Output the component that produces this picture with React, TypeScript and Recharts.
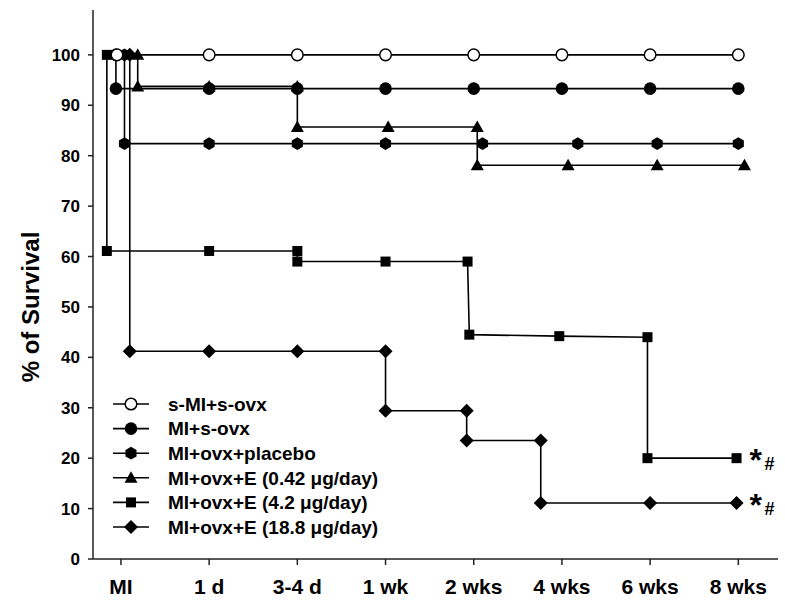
import React from 'react';
import { LineChart, Line, XAxis, YAxis, ReferenceDot } from 'recharts';

// ---- categories / ticks ----
const categories = ['MI', '1 d', '3-4 d', '1 wk', '2 wks', '4 wks', '6 wks', '8 wks'];
const categoryPositions = [0, 1, 2, 3, 4, 5, 6, 7];
const yTicks = [0, 10, 20, 30, 40, 50, 60, 70, 80, 90, 100];

const seriesNames = [
  's-MI+s-ovx',
  'MI+s-ovx',
  'MI+ovx+placebo',
  'MI+ovx+E (0.42 \u03BCg/day)',
  'MI+ovx+E (4.2 \u03BCg/day)',
  'MI+ovx+E (18.8 \u03BCg/day)',
];
const seriesShapes = ['openCircle', 'circle', 'hexagon', 'triangle', 'square', 'diamond'];

// ---- series values (x = time position, y = % survival) ----
const sMIsOvxX = [-0.045, 1, 2, 3, 4, 5, 6, 7];
const sMIsOvxY = [100, 100, 100, 100, 100, 100, 100, 100];

const miSOvxX = [-0.057, -0.057, 1, 2, 3, 4, 5, 6, 7];
const miSOvxY = [100, 93.3, 93.3, 93.3, 93.3, 93.3, 93.3, 93.3, 93.3];

const placeboX = [0.04, 0.04, 1, 2, 3, 4.1, 5.18, 6.08, 7];
const placeboY = [100, 82.4, 82.4, 82.4, 82.4, 82.4, 82.4, 82.4, 82.4];

const e042X = [0.19, 0.19, 1, 2, 2, 3.03, 4.04, 4.04, 5.07, 6.08, 7.07];
const e042Y = [100, 93.75, 93.75, 93.75, 85.7, 85.7, 85.7, 78.1, 78.1, 78.1, 78.1];

const e42X = [-0.16, -0.16, 1, 2, 2, 3, 3.93, 3.95, 4.97, 5.97, 5.97, 6.98];
const e42Y = [100, 61.1, 61.1, 61.1, 59, 59, 59, 44.5, 44.2, 44, 20, 20];

const e188X = [0.1, 0.1, 1, 2, 3, 3, 3.92, 3.92, 4.76, 4.76, 6, 6.98];
const e188Y = [100, 41.2, 41.2, 41.2, 41.2, 29.4, 29.4, 23.5, 23.5, 11.1, 11.1, 11.1];

const toPoints = (xs: number[], ys: number[]) => xs.map((x, i) => ({ x, y: ys[i] }));

const FONT = '"Liberation Sans", Arial, Helvetica, sans-serif';

function Marker({ cx, cy, shape }: { cx: number; cy: number; shape: string }) {
  if (cx == null || cy == null) return null;
  switch (shape) {
    case 'openCircle':
      return <circle cx={cx} cy={cy} r={5.8} fill="#fff" stroke="#000" strokeWidth={1.5} />;
    case 'circle':
      return <circle cx={cx} cy={cy} r={6.3} fill="#000" />;
    case 'hexagon': {
      const r = 6.4;
      const pts = [0, 1, 2, 3, 4, 5]
        .map((k) => {
          const a = (Math.PI / 3) * k - Math.PI / 2;
          return `${cx + r * Math.cos(a)},${cy + r * Math.sin(a)}`;
        })
        .join(' ');
      return <polygon points={pts} fill="#000" />;
    }
    case 'triangle':
      return <polygon points={`${cx},${cy - 6.5} ${cx + 6.5},${cy + 5} ${cx - 6.5},${cy + 5}`} fill="#000" />;
    case 'square':
      return <rect x={cx - 5} y={cy - 5} width={10} height={10} fill="#000" />;
    case 'diamond':
      return <polygon points={`${cx},${cy - 7} ${cx + 7},${cy} ${cx},${cy + 7} ${cx - 7},${cy}`} fill="#000" />;
    default:
      return null;
  }
}

const dotFor = (shape: string) => (p: any) => (
  <Marker key={`${shape}-${p.index}`} cx={p.cx} cy={p.cy} shape={shape} />
);

function XTick(props: any) {
  const { x, payload } = props;
  const label = categories[Math.round(payload.value)];
  return (
    <text x={x} y={579} dy="0.71em" textAnchor="middle" fontSize={21} fontWeight="bold" fill="#000" fontFamily={FONT}>
      {label}
    </text>
  );
}

function YTick(props: any) {
  const { y, payload } = props;
  return (
    <text x={80} y={y} dy="0.36em" textAnchor="end" fontSize={17} fontWeight="bold" fill="#000" fontFamily={FONT}>
      {payload.value}
    </text>
  );
}

function Annot(props: any) {
  const { cx, cy } = props;
  if (cx == null || cy == null) return null;
  return (
    <g fontFamily={FONT} fontWeight="bold" fill="#000">
      <text x={cx + 13} y={cy + 13} fontSize={32}>*</text>
      <text x={cx + 28} y={cy + 12} fontSize={18}>#</text>
    </g>
  );
}

const lineCommon = {
  dataKey: 'y',
  stroke: '#000',
  strokeWidth: 1.6,
  type: 'linear' as const,
  isAnimationActive: false,
  activeDot: false as const,
};

export default function App() {
  const legendTop = 404;
  const legendStep = 24.6;
  return (
    <div style={{ position: 'absolute', left: 0, top: 0, width: 785, height: 603, background: '#fff', fontFamily: FONT }}>
      <LineChart width={785} height={603} margin={{ top: 10, right: 7, left: 0, bottom: 0 }}>
        <XAxis
          type="number"
          dataKey="x"
          domain={[-0.317, 7.45]}
          ticks={categoryPositions}
          interval={0}
          allowDataOverflow
          height={44}
          tickSize={6}
          tick={<XTick />}
          tickLine={{ stroke: '#222', strokeWidth: 1.5 }}
          axisLine={{ stroke: '#222', strokeWidth: 1.5 }}
        />
        <YAxis
          type="number"
          domain={[0, 108.9]}
          ticks={yTicks}
          interval={0}
          allowDataOverflow
          width={93}
          tickSize={5}
          tick={<YTick />}
          tickLine={{ stroke: '#222', strokeWidth: 1.5 }}
          axisLine={{ stroke: '#222', strokeWidth: 1.5 }}
        />
        <Line {...lineCommon} name={seriesNames[4]} data={toPoints(e42X, e42Y)} dot={dotFor('square')} />
        <Line {...lineCommon} name={seriesNames[5]} data={toPoints(e188X, e188Y)} dot={dotFor('diamond')} />
        <Line {...lineCommon} name={seriesNames[2]} data={toPoints(placeboX, placeboY)} dot={dotFor('hexagon')} />
        <Line {...lineCommon} name={seriesNames[3]} data={toPoints(e042X, e042Y)} dot={dotFor('triangle')} />
        <Line {...lineCommon} name={seriesNames[1]} data={toPoints(miSOvxX, miSOvxY)} dot={dotFor('circle')} />
        <Line {...lineCommon} name={seriesNames[0]} data={toPoints(sMIsOvxX, sMIsOvxY)} dot={dotFor('openCircle')} />
        <ReferenceDot x={e42X[e42X.length - 1]} y={e42Y[e42Y.length - 1]} r={0} shape={(p: any) => <Annot {...p} />} />
        <ReferenceDot x={e188X[e188X.length - 1]} y={e188Y[e188Y.length - 1]} r={0} shape={(p: any) => <Annot {...p} />} />
      </LineChart>
      <svg width={785} height={603} style={{ position: 'absolute', left: 0, top: 0, pointerEvents: 'none' }}>
        <text
          x={30}
          y={307}
          transform="rotate(-90 30 307)"
          textAnchor="middle"
          dy="0.36em"
          fontSize={24}
          fontWeight="bold"
          fontFamily={FONT}
          fill="#000"
        >
          % of Survival
        </text>
        {seriesNames.map((name, i) => {
          const cy = legendTop + i * legendStep;
          return (
            <g key={name}>
              <line x1={113} x2={149} y1={cy} y2={cy} stroke="#000" strokeWidth={1.6} />
              <Marker cx={131} cy={cy} shape={seriesShapes[i]} />
              <text x={168} y={cy} dy="0.36em" fontSize={19} fontWeight="bold" fontFamily={FONT} fill="#000">
                {name}
              </text>
            </g>
          );
        })}
      </svg>
    </div>
  );
}
